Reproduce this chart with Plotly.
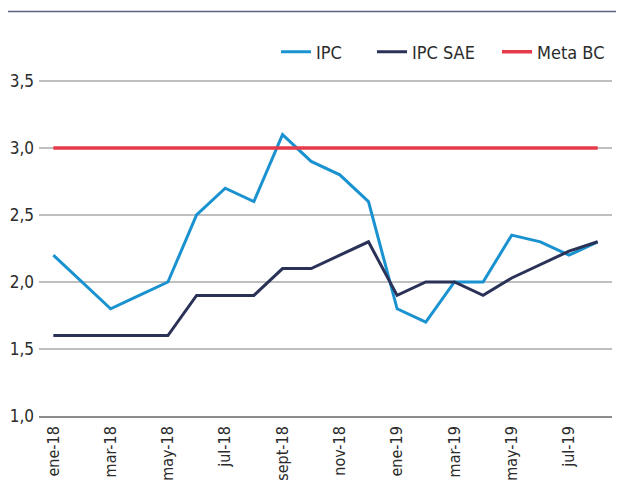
import plotly.graph_objects as go

months = ["ene-18", "feb-18", "mar-18", "abr-18", "may-18", "jun-18", "jul-18", "ago-18",
          "sept-18", "oct-18", "nov-18", "dic-18", "ene-19", "feb-19", "mar-19", "abr-19",
          "may-19", "jun-19", "jul-19", "ago-19"]
tick_months = ["ene-18", "mar-18", "may-18", "jul-18", "sept-18", "nov-18",
               "ene-19", "mar-19", "may-19", "jul-19"]
ipc = [2.2, 2.0, 1.8, 1.9, 2.0, 2.5, 2.7, 2.6, 3.1, 2.9, 2.8, 2.6,
       1.8, 1.7, 2.0, 2.0, 2.35, 2.3, 2.2, 2.3]
ipc_sae = [1.6, 1.6, 1.6, 1.6, 1.6, 1.9, 1.9, 1.9, 2.1, 2.1, 2.2, 2.3,
           1.9, 2.0, 2.0, 1.9, 2.03, 2.13, 2.23, 2.3]
meta_bc = [3.0] * len(months)
y_ticks = [1.0, 1.5, 2.0, 2.5, 3.0, 3.5]

FONT = "Liberation Sans Narrow, DejaVu Sans Condensed, Arial Narrow, sans-serif"
OFF = 8  # page body margin
W, H = 624 - OFF, 481 - OFF
ML, MR, MT, MB = 39 - OFF, 12, 14 - OFF, 65
pw = W - ML - MR
ph = H - MT - MB

def px_x(p):
    return (p - OFF - ML) / pw

def px_y(p):
    return (H - MB - (p - OFF)) / ph

fig = go.Figure()
fig.add_trace(go.Scatter(x=months, y=ipc, name="IPC", mode="lines",
                         line=dict(color="#1a92d0", width=3), legend="legend"))
fig.add_trace(go.Scatter(x=months, y=ipc_sae, name="IPC SAE", mode="lines",
                         line=dict(color="#2b3257", width=3), legend="legend2"))
fig.add_trace(go.Scatter(x=months, y=meta_bc, name="Meta BC", mode="lines",
                         line=dict(color="#e63a4b", width=3.5), legend="legend3"))

leg_common = dict(orientation="h", yanchor="middle", xanchor="left",
                  font=dict(family=FONT, size=18, color="#2b2b2b"),
                  bgcolor="rgba(0,0,0,0)", borderwidth=0)
fig.update_layout(
    width=W, height=H,
    margin=dict(l=ML, r=MR, t=MT, b=MB, autoexpand=False),
    paper_bgcolor="white", plot_bgcolor="white",
    separators=",.",
    showlegend=True,
    legend=dict(x=px_x(276), y=px_y(52), **leg_common),
    legend2=dict(x=px_x(372), y=px_y(52), **leg_common),
    legend3=dict(x=px_x(497), y=px_y(52), **leg_common),
    xaxis=dict(type="category", categoryorder="array", categoryarray=months,
               range=[-0.5, len(months) - 0.5], automargin=False,
               tickmode="array", tickvals=tick_months, ticktext=tick_months,
               tickangle=-90, showgrid=False, showline=True, linecolor="#8c8c8c",
               linewidth=1.5, ticks="", tickfont=dict(family=FONT, size=16, color="#2b2b2b"),
               ticklabelstandoff=2),
    yaxis=dict(range=[1.0, 4.0], tickmode="array", tickvals=y_ticks, tickformat=".1f",
               automargin=False,
               showgrid=True, gridcolor="#bfbfbf", gridwidth=1.5, zeroline=False,
               showline=False, ticks="", tickfont=dict(family=FONT, size=17, color="#2b2b2b"),
               ticklabelstandoff=4),
    shapes=[dict(type="line", xref="paper", yref="paper",
                 x0=px_x(8), x1=px_x(624), y0=px_y(11.5), y1=px_y(11.5),
                 line=dict(color="#5c6080", width=1.5))],
)

fig.write_html("out.html")
